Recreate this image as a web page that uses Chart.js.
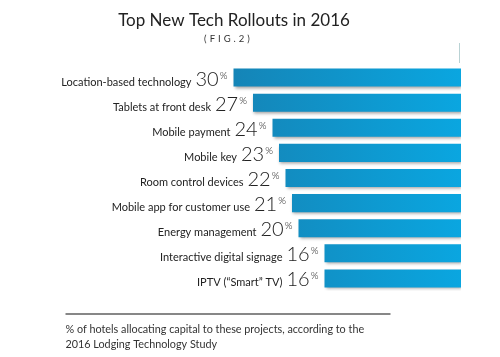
<!DOCTYPE html>
<html>
<head>
<meta charset="utf-8">
<script src="https://cdn.jsdelivr.net/npm/chart.js@4"></script>
<style>
  html, body { margin: 0; padding: 0; background: #fff; }
  #wrap { position: relative; width: 500px; height: 357px; }
  canvas { display: block; }
</style>
</head>
<body>
<div id="wrap"><canvas id="c" width="500" height="357"></canvas></div>
<script>
const categories = [
  'Location-based technology',
  'Tablets at front desk',
  'Mobile payment',
  'Mobile key',
  'Room control devices',
  'Mobile app for customer use',
  'Energy management',
  'Interactive digital signage',
  'IPTV (\u201CSmart\u201D TV)'
];
const values = [30, 27, 24, 23, 22, 21, 20, 16, 16];
const titleText = 'Top New Tech Rollouts in 2016';
const subtitleText = '(FIG.2)';
const footnoteLines = [
  '% of hotels allocating capital to these projects, according to the',
  '2016 Lodging Technology Study'
];

const FONT = 'Lato, "Open Sans", "Noto Sans", sans-serif';

function spacedText(ctx, text, cx, y, spacing) {
  const chars = text.split('');
  const widths = chars.map(c => ctx.measureText(c).width);
  const total = widths.reduce((a, b) => a + b, 0) + spacing * (chars.length - 1);
  let x = cx - total / 2;
  ctx.textAlign = 'left';
  chars.forEach((c, i) => { ctx.fillText(c, x, y); x += widths[i] + spacing; });
}

const labelPlugin = {
  id: 'labels',
  beforeDatasetsDraw(chart) {
    const ctx = chart.ctx;
    ctx.save();
    ctx.shadowColor = 'rgba(0,0,0,0.35)';
    ctx.shadowBlur = 3;
    ctx.shadowOffsetX = 1;
    ctx.shadowOffsetY = 2;
  },
  afterDatasetsDraw(chart) {
    const ctx = chart.ctx;
    ctx.restore();
    const meta = chart.getDatasetMeta(0);
    ctx.save();
    meta.data.forEach((bar, i) => {
      const top = bar.y - bar.height / 2;
      const baseline = bar.y + 8;
      let x = bar.x - 6;
      ctx.textBaseline = 'alphabetic';
      ctx.textAlign = 'right';
      ctx.fillStyle = '#222';
      ctx.font = '300 10px ' + FONT;
      ctx.fillText('%', x, top + 10);
      x -= ctx.measureText('%').width + 1;
      ctx.font = '300 20px ' + FONT;
      ctx.fillText(String(values[i]), x, baseline);
      x -= ctx.measureText(String(values[i])).width + 4;
      ctx.font = '400 11px ' + FONT;
      ctx.fillText(categories[i], x, baseline);
    });
    // title
    ctx.textAlign = 'center';
    ctx.fillStyle = '#222';
    ctx.font = '400 17px ' + FONT;
    ctx.fillText(titleText, 234, 26);
    ctx.font = '400 9.5px ' + FONT;
    ctx.fillStyle = '#333';
    spacedText(ctx, subtitleText, 227, 42, 3);
    // thin vertical marker
    ctx.strokeStyle = '#b9d2d4';
    ctx.lineWidth = 1;
    ctx.beginPath();
    ctx.moveTo(459.5, 43);
    ctx.lineTo(459.5, 63);
    ctx.stroke();
    // footnote rule
    ctx.strokeStyle = '#111';
    ctx.lineWidth = 1.2;
    ctx.beginPath();
    ctx.moveTo(65.5, 314);
    ctx.lineTo(390.5, 314);
    ctx.stroke();
    ctx.textAlign = 'left';
    ctx.fillStyle = '#333';
    ctx.font = '400 10.8px ' + FONT;
    ctx.fillText(footnoteLines[0], 65.5, 333);
    ctx.fillText(footnoteLines[1], 65.5, 348);
    ctx.restore();
  }
};

new Chart(document.getElementById('c'), {
  type: 'bar',
  data: {
    labels: categories,
    datasets: [{
      data: values,
      base: -5,
      backgroundColor(context) {
        const area = context.chart.chartArea;
        if (!area) return '#0c9bd2';
        const g = context.chart.ctx.createLinearGradient(area.left + 170, 0, area.right, 0);
        g.addColorStop(0, '#1584b6');
        g.addColorStop(1, '#0aa6e0');
        return g;
      },
      borderWidth: 0,
      borderRadius: 0,
      barPercentage: 0.9,
      categoryPercentage: 0.8
    }]
  },
  options: {
    responsive: false,
    animation: false,
    indexAxis: 'y',
    layout: { padding: { left: 58, right: 39, top: 65, bottom: 66 } },
    plugins: { legend: { display: false }, tooltip: { enabled: false }, title: { display: false } },
    scales: {
      x: { display: false, reverse: true, min: -5, max: 57 },
      y: { display: false }
    }
  },
  plugins: [labelPlugin]
});
</script>
</body>
</html>
